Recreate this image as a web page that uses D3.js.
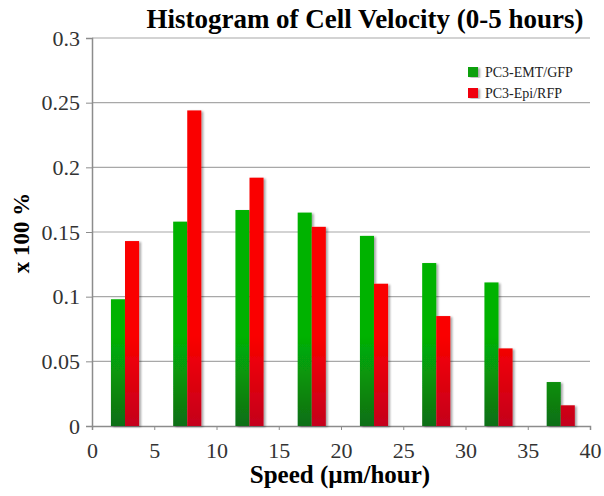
<!DOCTYPE html>
<html><head><meta charset="utf-8">
<script src="https://cdn.jsdelivr.net/npm/d3@7"></script>
<style>body{margin:0;background:#fff}svg{display:block}svg text{font-family:"Liberation Serif","Times New Roman",serif}</style>
</head><body><svg id="c" width="604" height="496"></svg>
<script>
const binCenters = [2.5, 7.5, 12.5, 17.5, 22.5, 27.5, 32.5, 37.5];
const emtValues = [0.098, 0.158, 0.167, 0.165, 0.147, 0.126, 0.111, 0.034];
const epiValues = [0.143, 0.244, 0.192, 0.154, 0.110, 0.085, 0.060, 0.016];
const seriesNames = ["PC3-EMT/GFP", "PC3-Epi/RFP"];
const xTicks = [0, 5, 10, 15, 20, 25, 30, 35, 40];
const yTicks = [0, 0.05, 0.1, 0.15, 0.2, 0.25, 0.3];

const svg = d3.select("#c");
const L = 92, R = 590, T = 38, B = 426;
const x = d3.scaleLinear().domain([0, 40]).range([L, R]);
const y = d3.scaleLinear().domain([0, 0.3]).range([B, T]);
const serif = "'Liberation Serif', 'Times New Roman', serif";

const defs = svg.append("defs");
function grad(id, top, bot) {
  const g = defs.append("linearGradient").attr("id", id).attr("gradientUnits", "userSpaceOnUse")
    .attr("x1", 0).attr("x2", 0).attr("y1", B - 90).attr("y2", B);
  g.append("stop").attr("offset", 0).attr("stop-color", top);
  g.append("stop").attr("offset", 1).attr("stop-color", bot);
}
grad("gG", "#05b205", "#0a6e14");
grad("gR", "#fa0000", "#c4001c");
const f = defs.append("filter").attr("id", "sh").attr("x", "-20%").attr("width", "160%");
f.append("feGaussianBlur").attr("in", "SourceAlpha").attr("stdDeviation", 1.2);
f.append("feOffset").attr("dx", 2).attr("dy", 1).attr("result", "b");
f.append("feComponentTransfer").append("feFuncA").attr("type", "linear").attr("slope", 0.35);
const m = f.append("feMerge"); m.append("feMergeNode"); m.append("feMergeNode").attr("in", "SourceGraphic");

// gridlines
svg.append("g").selectAll("line").data(yTicks.filter(d => d > 0)).join("line")
  .attr("x1", L).attr("x2", R).attr("y1", d => y(d)).attr("y2", d => y(d))
  .attr("stroke", "#a8a8a8").attr("stroke-width", 1.1);

// axes
const yAxis = svg.append("g").attr("transform", `translate(${L},0)`)
  .call(d3.axisLeft(y).tickValues(yTicks).tickSize(6).tickPadding(6).tickFormat(d => String(+d.toFixed(2))));
const xAxis = svg.append("g").attr("transform", `translate(0,${B})`)
  .call(d3.axisBottom(x).tickValues(xTicks).tickSize(4).tickPadding(12).tickFormat(d3.format("d")));
[yAxis, xAxis].forEach(a => {
  a.attr("font-family", null).attr("font-size", null);
  a.select(".domain").attr("stroke", "#8c8c8c").attr("stroke-width", 1.5);
  a.selectAll(".tick line").attr("stroke", "#8c8c8c");
  a.selectAll("text").style("font-family", serif).style("font-size", "22px").attr("fill", "#333");
});

// bars
const bw = 1.13, off = 0.15;
const bars = svg.append("g").attr("filter", "url(#sh)");
bars.selectAll(".g").data(binCenters).join("rect")
  .attr("x", (d) => x(d + off - bw)).attr("width", x(bw) - x(0))
  .attr("y", (d, i) => y(emtValues[i])).attr("height", (d, i) => B - y(emtValues[i]))
  .attr("fill", "url(#gG)");
bars.selectAll(".r").data(binCenters).join("rect")
  .attr("x", (d) => x(d + off)).attr("width", x(bw) - x(0))
  .attr("y", (d, i) => y(epiValues[i])).attr("height", (d, i) => B - y(epiValues[i]))
  .attr("fill", "url(#gR)");

// legend
const leg = svg.append("g").attr("transform", "translate(468,67)");
seriesNames.forEach((n, i) => {
  leg.append("rect").attr("x", 0).attr("y", i * 21).attr("width", 10).attr("height", 10)
    .attr("fill", i ? "#f00010" : "#10a010").attr("filter", "url(#sh)");
  leg.append("text").attr("x", 17).attr("y", i * 21 + 10).text(n)
    .style("font-size", "14px").attr("fill", "#222");
});

// titles
svg.append("text").attr("x", 365).attr("y", 28).attr("text-anchor", "middle")
  .attr("font-weight", "bold").style("font-size", "27px").text("Histogram of Cell Velocity (0-5 hours)");
svg.append("text").attr("x", 340).attr("y", 483).attr("text-anchor", "middle")
  .attr("font-weight", "bold").style("font-size", "25px").text("Speed (µm/hour)");
svg.append("text").attr("transform", "translate(29,233) rotate(-90)").attr("text-anchor", "middle")
  .attr("font-weight", "bold").style("font-size", "23px").text("x 100 %");
</script></body></html>
